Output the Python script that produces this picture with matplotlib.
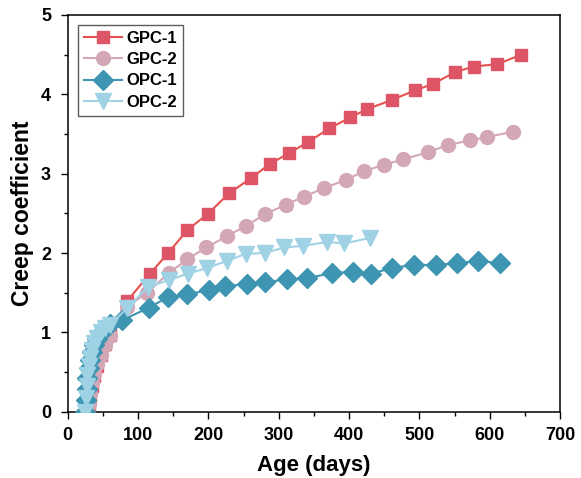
import matplotlib
matplotlib.use("Agg")
import matplotlib.pyplot as plt
from matplotlib.ticker import MultipleLocator

plt.rcParams['font.family'] = ['Liberation Sans', 'DejaVu Sans']
plt.rcParams['font.weight'] = 'bold'

gpc1_days = [28, 30, 32, 35, 38, 42, 47, 53, 60, 85, 117, 143, 170, 199, 229, 260, 287, 315, 342, 372,
             402, 425, 461, 494, 519, 551, 577, 611, 645]
gpc1_vals = [0.0, 0.08, 0.18, 0.32, 0.45, 0.58, 0.72, 0.85, 0.97, 1.40, 1.74, 2.00, 2.29, 2.49, 2.75, 2.94,
             3.12, 3.26, 3.40, 3.57, 3.71, 3.81, 3.93, 4.05, 4.13, 4.28, 4.35, 4.38, 4.50]

gpc2_days = [28, 30, 32, 35, 38, 42, 47, 53, 60, 84, 113, 144, 170, 197, 226, 253, 281, 310, 336, 365,
             395, 421, 449, 477, 512, 540, 572, 596, 633]
gpc2_vals = [0.0, 0.10, 0.22, 0.36, 0.48, 0.60, 0.72, 0.84, 0.96, 1.32, 1.50, 1.75, 1.92, 2.07, 2.21, 2.34,
             2.49, 2.61, 2.71, 2.82, 2.92, 3.03, 3.11, 3.18, 3.27, 3.36, 3.42, 3.46, 3.53]

opc1_days = [25, 26, 27, 28, 30, 32, 35, 38, 42, 47, 53, 60, 77, 115, 142, 169, 201, 224, 255, 281, 312,
             340, 376, 405, 431, 461, 492, 523, 553, 584, 615]
opc1_vals = [0.0, 0.15, 0.28, 0.42, 0.55, 0.65, 0.75, 0.84, 0.92, 0.99, 1.05, 1.10, 1.15, 1.31, 1.44, 1.48,
             1.53, 1.58, 1.61, 1.63, 1.67, 1.68, 1.75, 1.76, 1.74, 1.81, 1.85, 1.85, 1.87, 1.90, 1.87]

opc2_days = [25, 26, 27, 28, 30, 32, 35, 38, 42, 47, 53, 60, 85, 114, 144, 171, 198, 226, 253, 280, 308,
             335, 369, 393, 430]
opc2_vals = [0.0, 0.17, 0.32, 0.46, 0.58, 0.68, 0.78, 0.86, 0.93, 1.00, 1.05, 1.09, 1.31, 1.57, 1.66, 1.74,
             1.81, 1.90, 1.99, 2.00, 2.07, 2.09, 2.14, 2.12, 2.19]

fig = plt.figure(figsize=(5.81, 4.78), dpi=100)
ax = fig.add_axes([0.1165, 0.1387, 0.8475, 0.83])

ax.plot(gpc1_days, gpc1_vals, color='#E5524E', lw=1.5, marker='s', ms=9,
        mfc='#DF5568', mec='#DF5568', label='GPC-1', zorder=3)
ax.plot(gpc2_days, gpc2_vals, color='#D4A7B6', lw=1.5, marker='o', ms=10,
        mfc='#D3A7B5', mec='#D3A7B5', label='GPC-2', zorder=3)
ax.plot(opc1_days, opc1_vals, color='#3D95B2', lw=1.5, marker='D', ms=10,
        mfc='#3D95B2', mec='#3D95B2', label='OPC-1', zorder=4)
ax.plot(opc2_days, opc2_vals, color='#9FD2E4', lw=1.5, marker='v', ms=11,
        mfc='#9FD2E4', mec='#9FD2E4', label='OPC-2', zorder=4)

ax.set_xlim(0, 700)
ax.set_ylim(0, 5)
ax.xaxis.set_major_locator(MultipleLocator(100))
ax.xaxis.set_minor_locator(MultipleLocator(50))
ax.yaxis.set_major_locator(MultipleLocator(1))
ax.yaxis.set_minor_locator(MultipleLocator(0.5))
ax.tick_params(which='major', direction='out', length=5, width=1.0, labelsize=13)
ax.tick_params(axis='x', which='major', pad=6)
ax.tick_params(axis='y', which='major', pad=7)
ax.tick_params(which='minor', direction='out', length=3, width=1.0)
for s in ax.spines.values():
    s.set_linewidth(1.1)
for lab in ax.get_xticklabels() + ax.get_yticklabels():
    lab.set_fontweight('bold')

ax.set_xlabel('Age (days)', fontsize=16, fontweight='bold', labelpad=8)
ax.set_ylabel('Creep coefficient', fontsize=16.5, fontweight='bold', labelpad=5)

leg = ax.legend(loc='upper left', frameon=True, fancybox=False,
                edgecolor='#333333', handlelength=2.3, borderpad=0.35, labelspacing=0.38,
                handletextpad=0.3, borderaxespad=0.6, prop={'weight': 'bold', 'size': 12})
leg.get_frame().set_linewidth(1.0)

fig.savefig('out.png', dpi=100)
